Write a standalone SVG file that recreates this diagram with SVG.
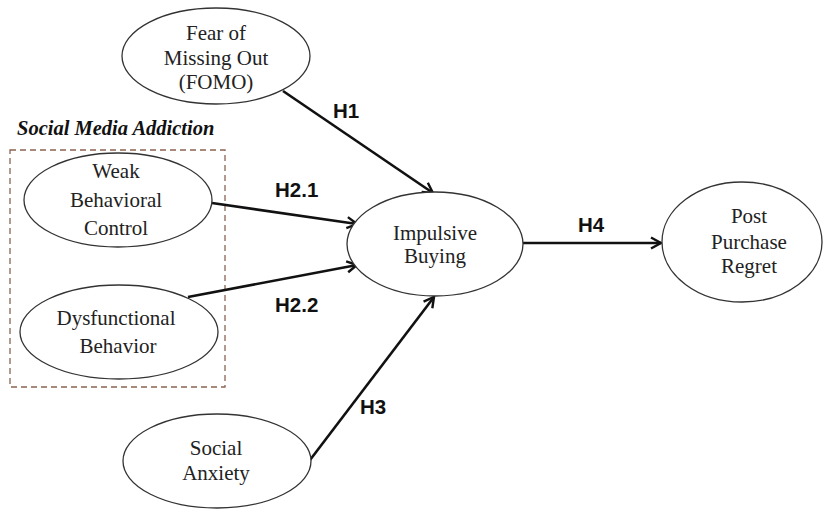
<svg xmlns="http://www.w3.org/2000/svg" width="830" height="510" viewBox="0 0 830 510">
<defs>
<marker id="arr" viewBox="0 0 14 14" refX="12" refY="7" markerWidth="14" markerHeight="14" markerUnits="userSpaceOnUse" orient="auto">
<path d="M2,1.5 L12,7 L2,12.5" fill="none" stroke="#111" stroke-width="2.4" stroke-linejoin="miter"/>
</marker>
</defs>
<style>
.node ellipse{fill:#fff;stroke:#333;stroke-width:1.3}
.node text{font-family:"Liberation Serif","Times New Roman",serif;font-size:21px;fill:#222;text-anchor:middle}
.conn line{stroke:#111;stroke-width:2.6;marker-end:url(#arr)}
.lbl{font-family:"Liberation Sans",Arial,sans-serif;font-weight:bold;font-size:20.5px;fill:#111}
.group{fill:none;stroke:#8a6452;stroke-width:1.3;stroke-dasharray:6,4}
.gtitle{font-family:"Liberation Serif","Times New Roman",serif;font-weight:bold;font-style:italic;font-size:20.5px;fill:#111}
</style>
<rect width="830" height="510" fill="#fff"/>
<g id="group-sma">
<rect class="group" x="10" y="150" width="215" height="237"/>
<text class="gtitle" x="17" y="135">Social Media Addiction</text>
</g>
<g class="conn" id="connectors">
<line x1="283" y1="91" x2="433" y2="193"/>
<line x1="212" y1="203" x2="357" y2="224"/>
<line x1="188" y1="297" x2="357" y2="265"/>
<line x1="310" y1="460" x2="434" y2="297"/>
<line x1="523" y1="243" x2="661" y2="243"/>
<text class="lbl" x="333" y="118">H1</text>
<text class="lbl" x="275" y="197">H2.1</text>
<text class="lbl" x="275" y="312">H2.2</text>
<text class="lbl" x="360" y="414">H3</text>
<text class="lbl" x="578" y="232">H4</text>
</g>
<g class="node" id="fomo">
<ellipse cx="216" cy="56" rx="94" ry="48"/>
<text x="216" y="40">Fear of</text>
<text x="216" y="65">Missing Out</text>
<text x="216" y="89">(FOMO)</text>
</g>
<g class="node" id="weak">
<ellipse cx="118" cy="200" rx="94" ry="47"/>
<text x="116" y="178">Weak</text>
<text x="116" y="207">Behavioral</text>
<text x="116" y="235">Control</text>
</g>
<g class="node" id="dysfunctional">
<ellipse cx="119" cy="332" rx="99" ry="47"/>
<text x="116" y="325">Dysfunctional</text>
<text x="118" y="353">Behavior</text>
</g>
<g class="node" id="impulsive">
<ellipse cx="435" cy="244" rx="88" ry="52"/>
<text x="435" y="240">Impulsive</text>
<text x="435" y="263">Buying</text>
</g>
<g class="node" id="regret">
<ellipse cx="742" cy="242" rx="80" ry="60"/>
<text x="749" y="223">Post</text>
<text x="749" y="249">Purchase</text>
<text x="749" y="273">Regret</text>
</g>
<g class="node" id="anxiety">
<ellipse cx="217" cy="461" rx="94" ry="47"/>
<text x="216" y="455">Social</text>
<text x="216" y="480">Anxiety</text>
</g>
</svg>
